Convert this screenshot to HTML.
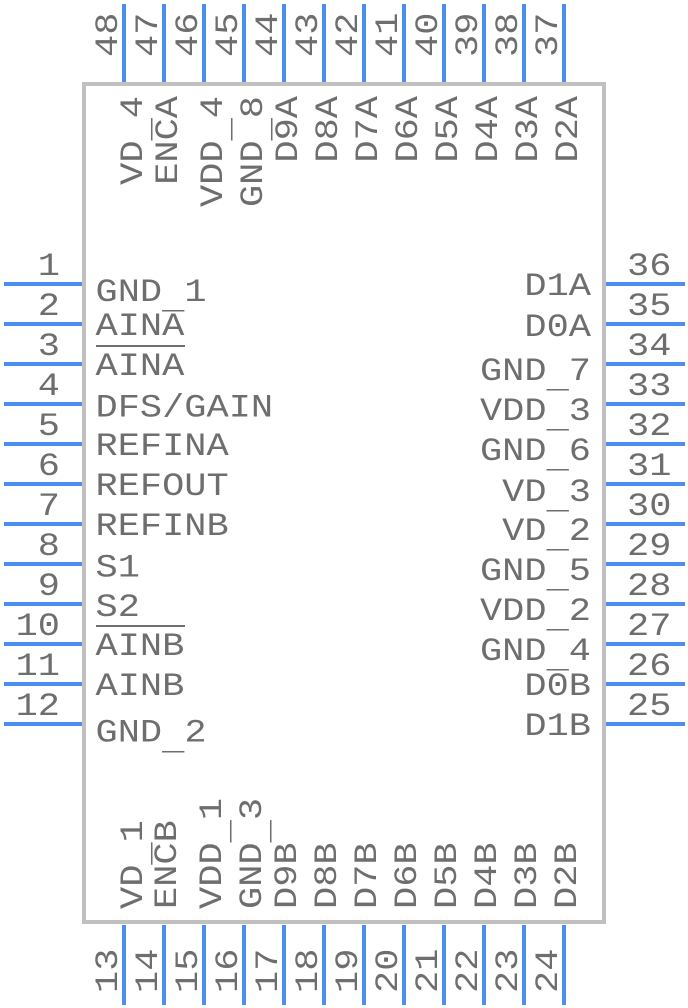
<!DOCTYPE html>
<html><head><meta charset="utf-8"><style>
html,body{margin:0;padding:0;background:#fff;}
svg{display:block;}
text{font-family:"Liberation Mono",monospace;font-size:37px;fill:#6e6e6e;}
</style></head><body>
<svg width="688" height="1008" viewBox="0 0 688 1008" xmlns="http://www.w3.org/2000/svg">
<rect x="0" y="0" width="688" height="1008" fill="#fff"/>
<g stroke="#4a8ff0" stroke-width="4">
<line x1="4" y1="284" x2="82" y2="284"/><line x1="4" y1="324" x2="82" y2="324"/><line x1="4" y1="364" x2="82" y2="364"/><line x1="4" y1="404" x2="82" y2="404"/><line x1="4" y1="444" x2="82" y2="444"/><line x1="4" y1="484" x2="82" y2="484"/><line x1="4" y1="524" x2="82" y2="524"/><line x1="4" y1="564" x2="82" y2="564"/><line x1="4" y1="604" x2="82" y2="604"/><line x1="4" y1="644" x2="82" y2="644"/><line x1="4" y1="684" x2="82" y2="684"/><line x1="4" y1="724" x2="82" y2="724"/>
<line x1="606" y1="284" x2="685" y2="284"/><line x1="606" y1="324" x2="685" y2="324"/><line x1="606" y1="364" x2="685" y2="364"/><line x1="606" y1="404" x2="685" y2="404"/><line x1="606" y1="444" x2="685" y2="444"/><line x1="606" y1="484" x2="685" y2="484"/><line x1="606" y1="524" x2="685" y2="524"/><line x1="606" y1="564" x2="685" y2="564"/><line x1="606" y1="604" x2="685" y2="604"/><line x1="606" y1="644" x2="685" y2="644"/><line x1="606" y1="684" x2="685" y2="684"/><line x1="606" y1="724" x2="685" y2="724"/>
<line x1="124" y1="4" x2="124" y2="82"/><line x1="164" y1="4" x2="164" y2="82"/><line x1="204" y1="4" x2="204" y2="82"/><line x1="244" y1="4" x2="244" y2="82"/><line x1="284" y1="4" x2="284" y2="82"/><line x1="324" y1="4" x2="324" y2="82"/><line x1="364" y1="4" x2="364" y2="82"/><line x1="404" y1="4" x2="404" y2="82"/><line x1="444" y1="4" x2="444" y2="82"/><line x1="484" y1="4" x2="484" y2="82"/><line x1="524" y1="4" x2="524" y2="82"/><line x1="564" y1="4" x2="564" y2="82"/>
<line x1="124" y1="925" x2="124" y2="1005"/><line x1="164" y1="925" x2="164" y2="1005"/><line x1="204" y1="925" x2="204" y2="1005"/><line x1="244" y1="925" x2="244" y2="1005"/><line x1="284" y1="925" x2="284" y2="1005"/><line x1="324" y1="925" x2="324" y2="1005"/><line x1="364" y1="925" x2="364" y2="1005"/><line x1="404" y1="925" x2="404" y2="1005"/><line x1="444" y1="925" x2="444" y2="1005"/><line x1="484" y1="925" x2="484" y2="1005"/><line x1="524" y1="925" x2="524" y2="1005"/><line x1="564" y1="925" x2="564" y2="1005"/>
</g>
<rect x="84" y="84" width="520" height="838" fill="none" stroke="#c0c0c0" stroke-width="4"/>

<g text-anchor="end">
<text transform="translate(60,275) scale(1,0.88)">1</text>
<text transform="translate(60,315) scale(1,0.88)">2</text>
<text transform="translate(60,355) scale(1,0.88)">3</text>
<text transform="translate(60,395) scale(1,0.88)">4</text>
<text transform="translate(60,435) scale(1,0.88)">5</text>
<text transform="translate(60,475) scale(1,0.88)">6</text>
<text transform="translate(60,515) scale(1,0.88)">7</text>
<text transform="translate(60,555) scale(1,0.88)">8</text>
<text transform="translate(60,595) scale(1,0.88)">9</text>
<text transform="translate(60,635) scale(1,0.88)">10</text>
<text transform="translate(60,675) scale(1,0.88)">11</text>
<text transform="translate(60,715) scale(1,0.88)">12</text>
</g>
<text transform="translate(627,275) scale(1,0.88)">36</text>
<text transform="translate(627,315) scale(1,0.88)">35</text>
<text transform="translate(627,355) scale(1,0.88)">34</text>
<text transform="translate(627,395) scale(1,0.88)">33</text>
<text transform="translate(627,435) scale(1,0.88)">32</text>
<text transform="translate(627,475) scale(1,0.88)">31</text>
<text transform="translate(627,515) scale(1,0.88)">30</text>
<text transform="translate(627,555) scale(1,0.88)">29</text>
<text transform="translate(627,595) scale(1,0.88)">28</text>
<text transform="translate(627,635) scale(1,0.88)">27</text>
<text transform="translate(627,675) scale(1,0.88)">26</text>
<text transform="translate(627,715) scale(1,0.88)">25</text>
<text transform="translate(117,57) rotate(-90) scale(1,0.88)">48</text>
<text transform="translate(157,57) rotate(-90) scale(1,0.88)">47</text>
<text transform="translate(197,57) rotate(-90) scale(1,0.88)">46</text>
<text transform="translate(237,57) rotate(-90) scale(1,0.88)">45</text>
<text transform="translate(277,57) rotate(-90) scale(1,0.88)">44</text>
<text transform="translate(317,57) rotate(-90) scale(1,0.88)">43</text>
<text transform="translate(357,57) rotate(-90) scale(1,0.88)">42</text>
<text transform="translate(397,57) rotate(-90) scale(1,0.88)">41</text>
<text transform="translate(437,57) rotate(-90) scale(1,0.88)">40</text>
<text transform="translate(477,57) rotate(-90) scale(1,0.88)">39</text>
<text transform="translate(517,57) rotate(-90) scale(1,0.88)">38</text>
<text transform="translate(557,57) rotate(-90) scale(1,0.88)">37</text>
<text transform="translate(117,993) rotate(-90) scale(1,0.88)">13</text>
<text transform="translate(157,993) rotate(-90) scale(1,0.88)">14</text>
<text transform="translate(197,993) rotate(-90) scale(1,0.88)">15</text>
<text transform="translate(237,993) rotate(-90) scale(1,0.88)">16</text>
<text transform="translate(277,993) rotate(-90) scale(1,0.88)">17</text>
<text transform="translate(317,993) rotate(-90) scale(1,0.88)">18</text>
<text transform="translate(357,993) rotate(-90) scale(1,0.88)">19</text>
<text transform="translate(397,993) rotate(-90) scale(1,0.88)">20</text>
<text transform="translate(437,993) rotate(-90) scale(1,0.88)">21</text>
<text transform="translate(477,993) rotate(-90) scale(1,0.88)">22</text>
<text transform="translate(517,993) rotate(-90) scale(1,0.88)">23</text>
<text transform="translate(557,993) rotate(-90) scale(1,0.88)">24</text>

<text transform="translate(95.5,301) scale(1,0.88)">GND<tspan dy="8">_</tspan><tspan dy="-8">1</tspan></text>
<text transform="translate(95.5,335) scale(1,0.88)">AINA</text>
<text transform="translate(95.5,375) scale(1,0.88)">AINA</text>
<text transform="translate(95.5,416.7) scale(1,0.88)">DFS/GAIN</text>
<text transform="translate(95.5,455) scale(1,0.88)">REFINA</text>
<text transform="translate(95.5,495) scale(1,0.88)">REFOUT</text>
<text transform="translate(95.5,535) scale(1,0.88)">REFINB</text>
<text transform="translate(95.5,576.7) scale(1,0.88)">S1</text>
<text transform="translate(95.5,616) scale(1,0.88)">S2</text>
<text transform="translate(95.5,655) scale(1,0.88)">AINB</text>
<text transform="translate(95.5,695) scale(1,0.88)">AINB</text>
<text transform="translate(95.5,741.7) scale(1,0.88)">GND<tspan dy="8">_</tspan><tspan dy="-8">2</tspan></text>
<line x1="96" y1="346" x2="185" y2="346" stroke="#6e6e6e" stroke-width="2"/>
<line x1="96" y1="626" x2="185" y2="626" stroke="#6e6e6e" stroke-width="2"/>

<g text-anchor="end">
<text transform="translate(591,295) scale(1,0.88)">D1A</text>
<text transform="translate(591,336) scale(1,0.88)">D0A</text>
<text transform="translate(591,380) scale(1,0.88)">GND<tspan dy="8">_</tspan><tspan dy="-8">7</tspan></text>
<text transform="translate(591,420) scale(1,0.88)">VDD<tspan dy="8">_</tspan><tspan dy="-8">3</tspan></text>
<text transform="translate(591,460) scale(1,0.88)">GND<tspan dy="8">_</tspan><tspan dy="-8">6</tspan></text>
<text transform="translate(591,501) scale(1,0.88)">VD<tspan dy="8">_</tspan><tspan dy="-8">3</tspan></text>
<text transform="translate(591,540) scale(1,0.88)">VD<tspan dy="8">_</tspan><tspan dy="-8">2</tspan></text>
<text transform="translate(591,580) scale(1,0.88)">GND<tspan dy="8">_</tspan><tspan dy="-8">5</tspan></text>
<text transform="translate(591,620) scale(1,0.88)">VDD<tspan dy="8">_</tspan><tspan dy="-8">2</tspan></text>
<text transform="translate(591,660) scale(1,0.88)">GND<tspan dy="8">_</tspan><tspan dy="-8">4</tspan></text>
<text transform="translate(591,695) scale(1,0.88)">D0B</text>
<text transform="translate(591,735) scale(1,0.88)">D1B</text>
</g>

<g text-anchor="end">
<text transform="translate(142,96) rotate(-90) scale(1,0.88)">VD<tspan dy="8">_</tspan><tspan dy="-8">4</tspan></text>
<text transform="translate(177,96) rotate(-90) scale(1,0.88)">ENCA</text>
<text transform="translate(222,96) rotate(-90) scale(1,0.88)">VDD<tspan dy="8">_</tspan><tspan dy="-8">4</tspan></text>
<text transform="translate(262,96) rotate(-90) scale(1,0.88)">GND<tspan dy="8">_</tspan><tspan dy="-8">8</tspan></text>
<text transform="translate(297,96) rotate(-90) scale(1,0.88)">D9A</text>
<text transform="translate(337,96) rotate(-90) scale(1,0.88)">D8A</text>
<text transform="translate(377,96) rotate(-90) scale(1,0.88)">D7A</text>
<text transform="translate(417,96) rotate(-90) scale(1,0.88)">D6A</text>
<text transform="translate(457,96) rotate(-90) scale(1,0.88)">D5A</text>
<text transform="translate(497,96) rotate(-90) scale(1,0.88)">D4A</text>
<text transform="translate(537,96) rotate(-90) scale(1,0.88)">D3A</text>
<text transform="translate(577,96) rotate(-90) scale(1,0.88)">D2A</text>
</g>

<text transform="translate(142,909) rotate(-90) scale(1,0.88)">VD<tspan dy="8">_</tspan><tspan dy="-8">1</tspan></text>
<text transform="translate(176,909) rotate(-90) scale(1,0.88)">ENCB</text>
<text transform="translate(221,909) rotate(-90) scale(1,0.88)">VDD<tspan dy="8">_</tspan><tspan dy="-8">1</tspan></text>
<text transform="translate(261,909) rotate(-90) scale(1,0.88)">GND<tspan dy="8">_</tspan><tspan dy="-8">3</tspan></text>
<text transform="translate(296,909) rotate(-90) scale(1,0.88)">D9B</text>
<text transform="translate(336,909) rotate(-90) scale(1,0.88)">D8B</text>
<text transform="translate(376,909) rotate(-90) scale(1,0.88)">D7B</text>
<text transform="translate(416,909) rotate(-90) scale(1,0.88)">D6B</text>
<text transform="translate(456,909) rotate(-90) scale(1,0.88)">D5B</text>
<text transform="translate(496,909) rotate(-90) scale(1,0.88)">D4B</text>
<text transform="translate(536,909) rotate(-90) scale(1,0.88)">D3B</text>
<text transform="translate(576,909) rotate(-90) scale(1,0.88)">D2B</text>
</svg>
</body></html>
